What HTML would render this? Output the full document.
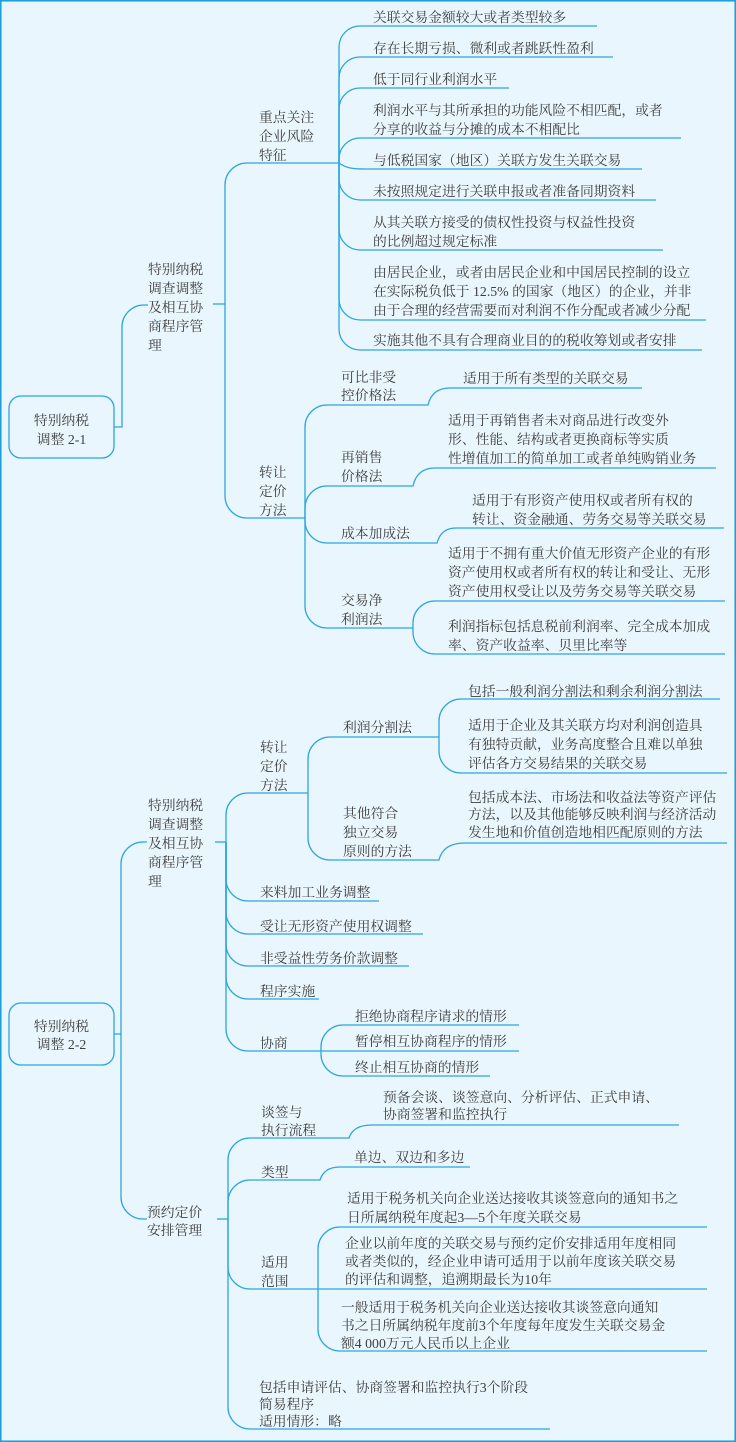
<!DOCTYPE html>
<html><head><meta charset="utf-8"><style>
html,body{margin:0;padding:0;background:#e9f6fd;}
svg{display:block;}
text{font-family:"Liberation Serif","Noto Serif CJK SC",serif;font-size:13.8px;fill:#3e3e3e;}
.l{fill:none;stroke:#2ba6de;stroke-width:1.3;}
</style></head><body>
<svg width="736" height="1442" viewBox="0 0 736 1442" xmlns="http://www.w3.org/2000/svg">
<rect x="0" y="0" width="736" height="1442" fill="#e9f6fd"/>
<rect x="0.75" y="0.75" width="734.5" height="1440.5" fill="none" stroke="#1e9fd8" stroke-width="1.6"/>

<!-- ===== Section 1 ===== -->
<rect class="l" x="9" y="396" width="105" height="62" rx="12"/>
<text x="61.5" y="425" text-anchor="middle">特别纳税</text>
<text x="61.5" y="444" text-anchor="middle">调整 2-1</text>
<path class="l" d="M114,427 H122 V327 A22,22 0 0 1 144,305 H148"/>
<text x="148" y="274">特别纳税</text>
<text x="148" y="293">调查调整</text>
<text x="148" y="312">及相互协</text>
<text x="148" y="331">商程序管</text>
<text x="148" y="350">理</text>
<path class="l" d="M213,304 H225"/>
<path class="l" d="M225,304 V185 A22,22 0 0 1 247,163 H339"/>
<path class="l" d="M225,304 V496 A22,22 0 0 0 247,518 H305"/>
<text x="259" y="122">重点关注</text>
<text x="259" y="141">企业风险</text>
<text x="259" y="160">特征</text>
<text x="259" y="477">转让</text>
<text x="259" y="496">定价</text>
<text x="259" y="515">方法</text>

<!-- 重点关注 children -->
<path class="l" d="M339,163 V47 A21,21 0 0 1 360,26 H597"/>
<path class="l" d="M339,163 V78 A21,21 0 0 1 360,57 H613"/>
<path class="l" d="M339,163 V109 A21,21 0 0 1 360,88 H509"/>
<path class="l" d="M339,163 V159 A21,21 0 0 1 360,138 H681"/>
<path class="l" d="M339,163 C346,168 352,169 365,169 H642"/>
<path class="l" d="M339,163 V179 A21,21 0 0 0 360,200 H656"/>
<path class="l" d="M339,163 V229 A21,21 0 0 0 360,250 H663"/>
<path class="l" d="M339,163 V299 A21,21 0 0 0 360,320 H706"/>
<path class="l" d="M339,163 V329 A21,21 0 0 0 360,350 H702"/>
<text x="373" y="22">关联交易金额较大或者类型较多</text>
<text x="373" y="53">存在长期亏损、微利或者跳跃性盈利</text>
<text x="373" y="84">低于同行业利润水平</text>
<text x="373" y="115">利润水平与其所承担的功能风险不相匹配，或者</text>
<text x="373" y="134">分享的收益与分摊的成本不相配比</text>
<text x="373" y="165">与低税国家（地区）关联方发生关联交易</text>
<text x="373" y="196">未按照规定进行关联申报或者准备同期资料</text>
<text x="373" y="227">从其关联方接受的债权性投资与权益性投资</text>
<text x="373" y="246">的比例超过规定标准</text>
<text x="373" y="277">由居民企业，或者由居民企业和中国居民控制的设立</text>
<text x="373" y="296">在实际税负低于 12.5% 的国家（地区）的企业，并非</text>
<text x="373" y="315">由于合理的经营需要而对利润不作分配或者减少分配</text>
<text x="373" y="345">实施其他不具有合理商业目的的税收筹划或者安排</text>

<!-- 转让定价方法 children (section 1) -->
<path class="l" d="M305,518 V427 A22,22 0 0 1 327,405 H428 Q432,388 450,388 H642"/>
<path class="l" d="M305,518 V508 A22,22 0 0 1 327,486 H413 Q417,468 435,468 H716"/>
<path class="l" d="M305,518 V521 A22,22 0 0 0 327,543 H437 Q441,528 456,528 H724"/>
<path class="l" d="M305,518 V606 A22,22 0 0 0 327,628 H413"/>
<path class="l" d="M413,628 V623 A22,22 0 0 1 435,601 H725"/>
<path class="l" d="M413,628 V632 A22,22 0 0 0 435,654 H725"/>
<text x="341" y="382">可比非受</text>
<text x="341" y="400">控价格法</text>
<text x="463" y="383">适用于所有类型的关联交易</text>
<text x="341" y="462">再销售</text>
<text x="341" y="481">价格法</text>
<text x="448" y="425">适用于再销售者未对商品进行改变外</text>
<text x="448" y="444">形、性能、结构或者更换商标等实质</text>
<text x="448" y="463">性增值加工的简单加工或者单纯购销业务</text>
<text x="341" y="538">成本加成法</text>
<text x="472" y="505">适用于有形资产使用权或者所有权的</text>
<text x="472" y="524">转让、资金融通、劳务交易等关联交易</text>
<text x="341" y="605">交易净</text>
<text x="341" y="624">利润法</text>
<text x="448" y="558">适用于不拥有重大价值无形资产企业的有形</text>
<text x="448" y="577">资产使用权或者所有权的转让和受让、无形</text>
<text x="448" y="596">资产使用权受让以及劳务交易等关联交易</text>
<text x="448" y="631">利润指标包括息税前利润率、完全成本加成</text>
<text x="448" y="650">率、资产收益率、贝里比率等</text>

<!-- ===== Section 2 ===== -->
<rect class="l" x="9" y="1003" width="105" height="62" rx="12"/>
<text x="61.5" y="1031" text-anchor="middle">特别纳税</text>
<text x="61.5" y="1049" text-anchor="middle">调整 2-2</text>
<path class="l" d="M114,1034 H121 V864 A22,22 0 0 1 143,842 H147"/>
<path class="l" d="M121,1034 V1197 A22,22 0 0 0 143,1219 H147"/>
<text x="148" y="810">特别纳税</text>
<text x="148" y="829">调查调整</text>
<text x="148" y="848">及相互协</text>
<text x="148" y="867">商程序管</text>
<text x="148" y="886">理</text>
<path class="l" d="M215,842 H226"/>
<path class="l" d="M226,842 V815 A22,22 0 0 1 248,793 H308"/>
<path class="l" d="M226,842 V879 A22,22 0 0 0 248,901 H379"/>
<path class="l" d="M226,842 V912 A22,22 0 0 0 248,934 H423"/>
<path class="l" d="M226,842 V944 A22,22 0 0 0 248,966 H409"/>
<path class="l" d="M226,842 V977 A22,22 0 0 0 248,999 H319"/>
<path class="l" d="M226,842 V1029 A22,22 0 0 0 248,1051 H321"/>
<text x="260" y="752">转让</text>
<text x="260" y="771">定价</text>
<text x="260" y="790">方法</text>
<text x="260" y="897">来料加工业务调整</text>
<text x="260" y="931">受让无形资产使用权调整</text>
<text x="260" y="963">非受益性劳务价款调整</text>
<text x="260" y="996">程序实施</text>
<text x="260" y="1048">协商</text>

<!-- 转让定价方法 children (section 2) -->
<path class="l" d="M308,793 V759 A22,22 0 0 1 330,737 H439"/>
<path class="l" d="M439,737 V721 A22,22 0 0 1 461,699 H720"/>
<path class="l" d="M439,737 V751 A22,22 0 0 0 461,773 H727"/>
<path class="l" d="M308,793 V838 A22,22 0 0 0 330,860 H439 Q443,843 465,843 H727"/>
<text x="343" y="732">利润分割法</text>
<text x="468" y="696">包括一般利润分割法和剩余利润分割法</text>
<text x="468" y="730">适用于企业及其关联方均对利润创造具</text>
<text x="468" y="749">有独特贡献，业务高度整合且难以单独</text>
<text x="468" y="768">评估各方交易结果的关联交易</text>
<text x="343" y="818">其他符合</text>
<text x="343" y="837">独立交易</text>
<text x="343" y="856">原则的方法</text>
<text x="468" y="802">包括成本法、市场法和收益法等资产评估</text>
<text x="468" y="819">方法，以及其他能够反映利润与经济活动</text>
<text x="468" y="837">发生地和价值创造地相匹配原则的方法</text>

<!-- 协商 children -->
<path class="l" d="M321,1051 V1047 A22,22 0 0 1 343,1025 H519"/>
<path class="l" d="M321,1051 H519"/>
<path class="l" d="M321,1051 V1054 A22,22 0 0 0 343,1076 H490"/>
<text x="355" y="1021">拒绝协商程序请求的情形</text>
<text x="355" y="1046">暂停相互协商程序的情形</text>
<text x="355" y="1072">终止相互协商的情形</text>

<!-- 预约定价安排管理 -->
<text x="147" y="1217">预约定价</text>
<text x="147" y="1235">安排管理</text>
<path class="l" d="M217,1219 H228"/>
<path class="l" d="M228,1219 V1160 A22,22 0 0 1 250,1138 H349 Q353,1125 372,1125 H679"/>
<path class="l" d="M228,1219 V1202 A22,22 0 0 1 250,1180 H320 Q324,1167 340,1167 H470"/>
<path class="l" d="M228,1219 V1267 A22,22 0 0 0 250,1289 H318"/>
<path class="l" d="M228,1219 V1407 A22,22 0 0 0 250,1429 H550"/>
<text x="261" y="1117">谈签与</text>
<text x="261" y="1135">执行流程</text>
<text x="383" y="1102">预备会谈、谈签意向、分析评估、正式申请、</text>
<text x="383" y="1119">协商签署和监控执行</text>
<text x="261" y="1177">类型</text>
<text x="354" y="1162">单边、双边和多边</text>
<text x="261" y="1267">适用</text>
<text x="261" y="1286">范围</text>
<path class="l" d="M318,1289 V1249 A22,22 0 0 1 340,1227 H707"/>
<path class="l" d="M318,1289 H707"/>
<path class="l" d="M318,1289 V1329 A22,22 0 0 0 340,1351 H707"/>
<text x="347" y="1203">适用于税务机关向企业送达接收其谈签意向的通知书之</text>
<text x="347" y="1222">日所属纳税年度起3—5个年度关联交易</text>
<text x="345" y="1248">企业以前年度的关联交易与预约定价安排适用年度相同</text>
<text x="345" y="1266">或者类似的，经企业申请可适用于以前年度该关联交易</text>
<text x="345" y="1284">的评估和调整，追溯期最长为10年</text>
<text x="341" y="1312">一般适用于税务机关向企业送达接收其谈签意向通知</text>
<text x="341" y="1330">书之日所属纳税年度前3个年度每年度发生关联交易金</text>
<text x="341" y="1348">额4 000万元人民币以上企业</text>
<text x="259" y="1392">包括申请评估、协商签署和监控执行3个阶段</text>
<text x="259" y="1409">简易程序</text>
<text x="259" y="1426">适用情形：略</text>
</svg>
</body></html>
